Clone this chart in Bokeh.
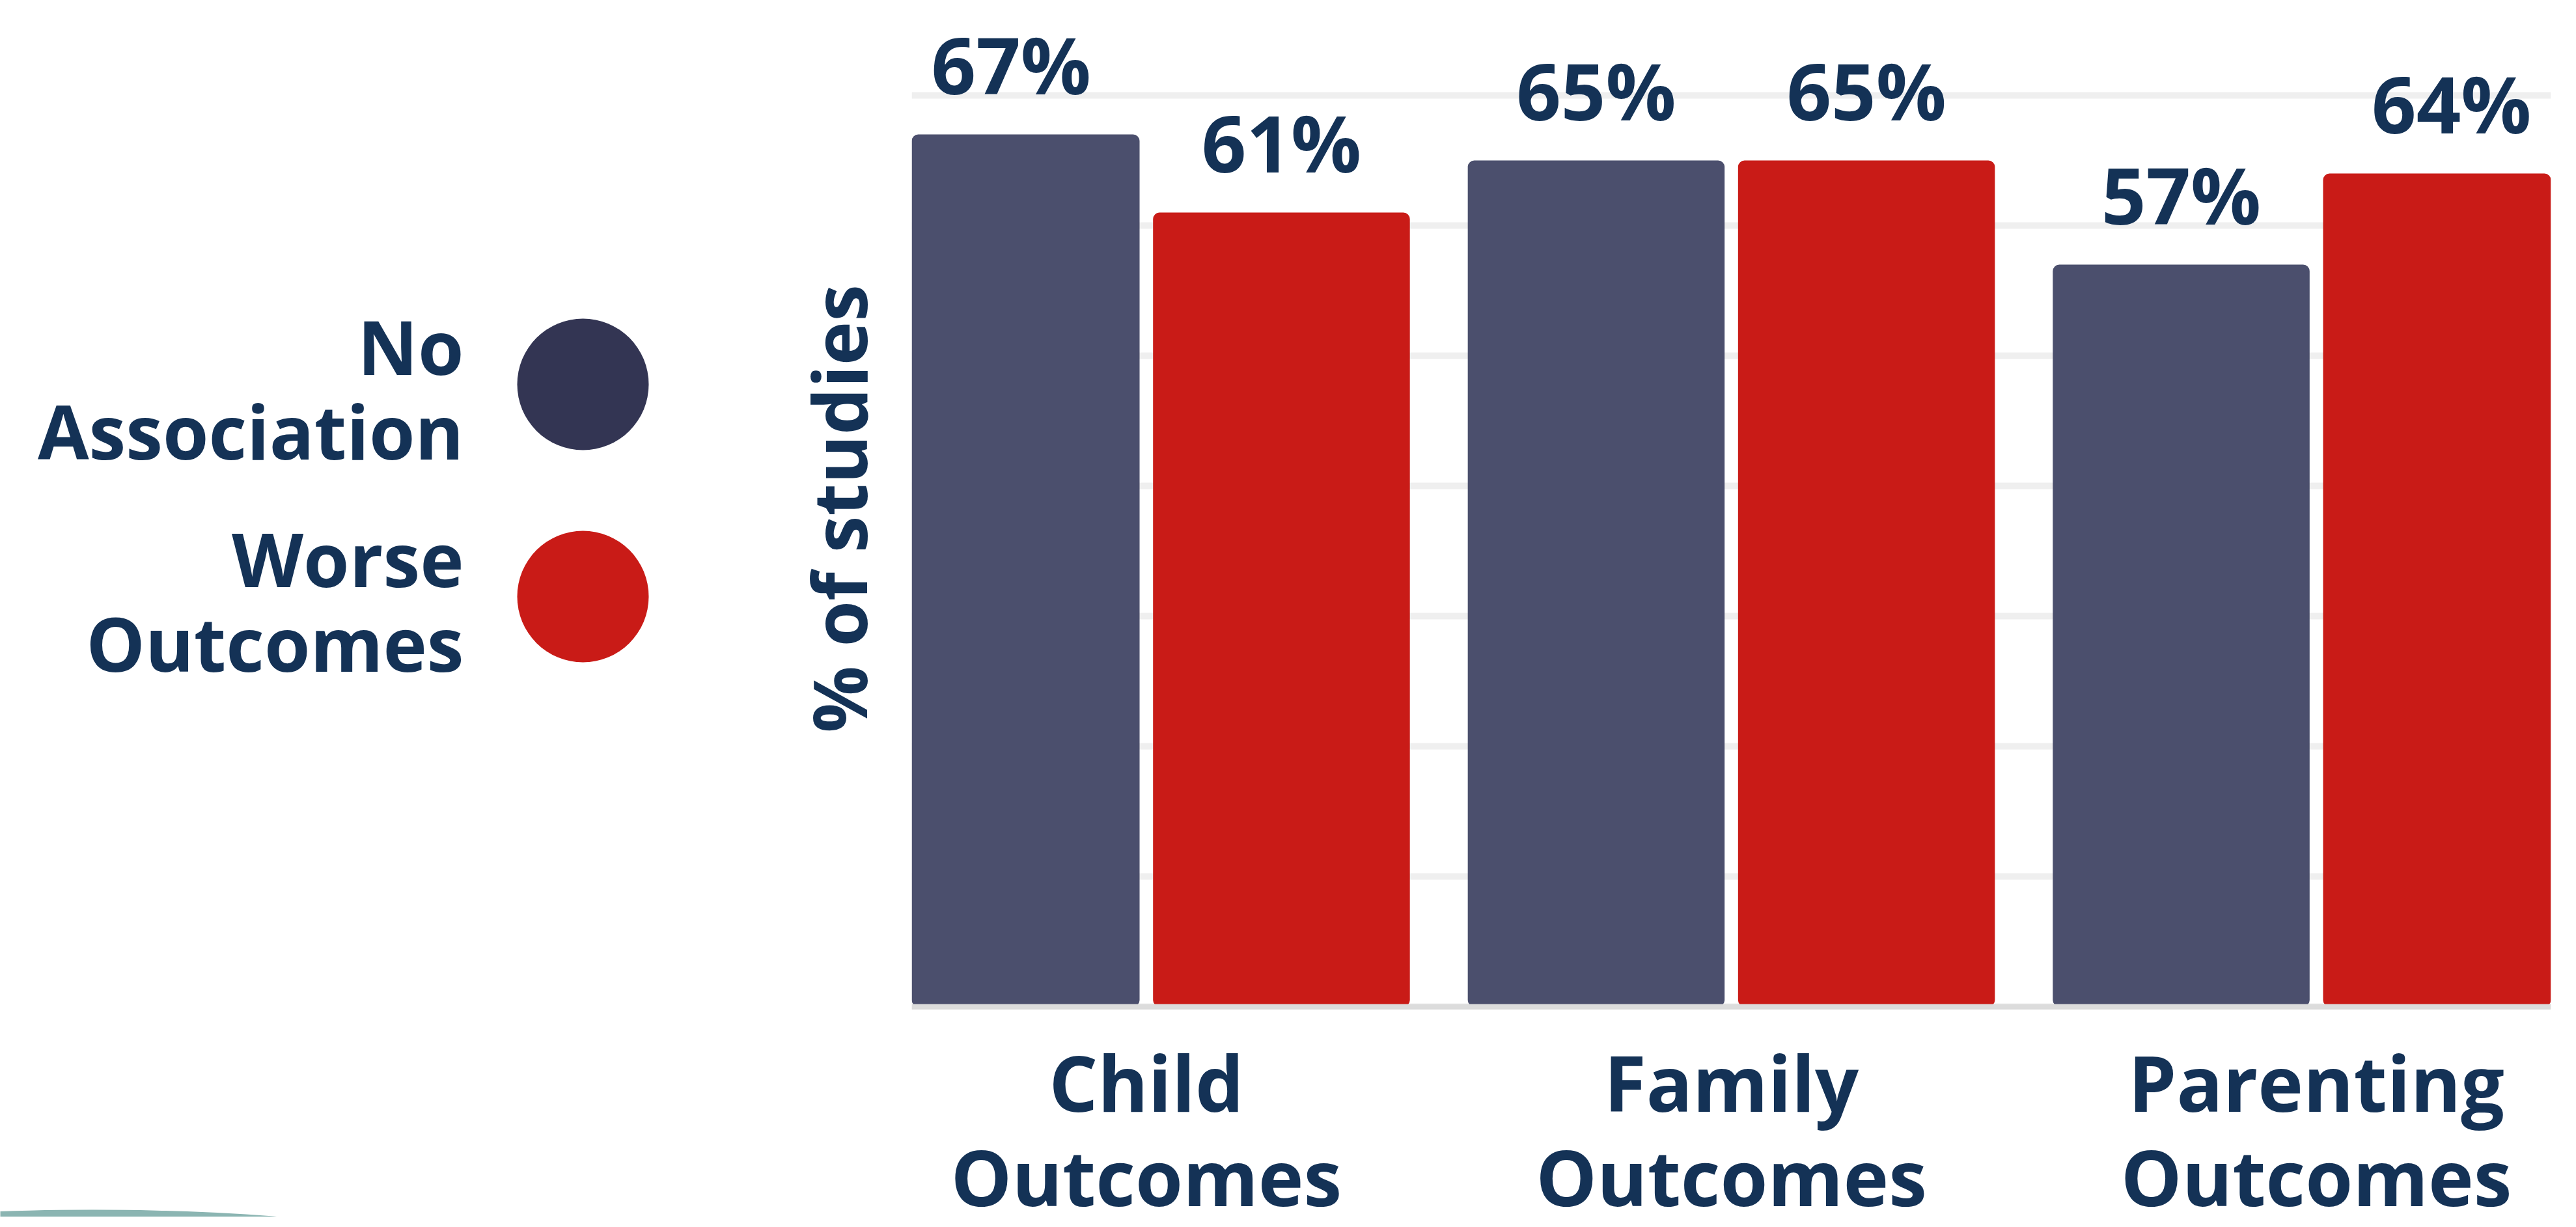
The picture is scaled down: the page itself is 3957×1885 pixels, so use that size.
import math
from bokeh.plotting import figure
from bokeh.models import ColumnDataSource, FactorRange, Range1d, FixedTicker, Span
from bokeh.transform import dodge
from bokeh.layouts import row
from bokeh.core.properties import value
from bokeh.embed import file_html
from bokeh.resources import INLINE

# ---- data ----
categories = ["Child\nOutcomes", "Family\nOutcomes", "Parenting\nOutcomes"]
no_association = [67, 65, 57]
worse_outcomes = [61, 65, 64]
series_names = ["No\nAssociation", "Worse\nOutcomes"]
bar_colors = ["#4B4F6D", "#C91B17"]
legend_colors = ["#333553", "#C91B17"]
y_label = "% of studies"
grid_values = [0, 10, 20, 30, 40, 50, 60, 70]

# ---- style ----
FONT = "Open Sans"
TEXT = "#143256"
W_TOTAL, H = 3941, 1869
BASE = 1546          # canvas y of the 0% baseline
PX_PER_PCT = 20.0
LEG_W = 1400
MAIN_W = W_TOTAL - LEG_W
BAR_W = 0.439
OFF = 0.231

src = ColumnDataSource(dict(
    cat=categories,
    na=no_association,
    wo=worse_outcomes,
    na_lbl=[f"{v}%" for v in no_association],
    wo_lbl=[f"{v}%" for v in worse_outcomes],
))

p = figure(
    x_range=FactorRange(*categories, range_padding=-0.099, range_padding_units="absolute"),
    y_range=Range1d(-(H - BASE) / PX_PER_PCT, BASE / PX_PER_PCT),
    width=MAIN_W, height=H,
    output_backend="svg", toolbar_location=None,
    min_border_left=0, min_border_right=23, min_border_top=0, min_border_bottom=0,
)
p.outline_line_color = None
p.background_fill_color = "white"
p.border_fill_color = "white"

p.yaxis.visible = False
p.ygrid.ticker = FixedTicker(ticks=grid_values)
p.ygrid.grid_line_color = "#efefef"
p.ygrid.grid_line_width = 10
p.xgrid.grid_line_color = None

p.xaxis.fixed_location = 0
p.xaxis.major_label_text_font = FONT
p.xaxis.major_label_text_font_style = "bold"
p.xaxis.major_label_text_font_size = "118px"
p.xaxis.major_label_text_color = TEXT
p.xaxis.major_label_text_line_height = 0.906
p.xaxis.major_label_standoff = 35
p.xaxis.major_tick_line_color = None
p.xaxis.major_tick_out = 0
p.xaxis.major_tick_in = 0
p.xaxis.minor_tick_line_color = None
p.xaxis.minor_tick_out = 0
p.xaxis.axis_line_color = None

# baseline (x axis line)
p.add_layout(Span(location=0, dimension="width", line_color="#dcdcdc", line_width=8))

for col, lbl, off, color in [("na", "na_lbl", -OFF, bar_colors[0]), ("wo", "wo_lbl", OFF, bar_colors[1])]:
    p.vbar(x=dodge("cat", off, range=p.x_range), top=col, width=BAR_W, bottom=0,
           fill_color=color, line_color=None, source=src, border_radius=10)
    p.text(x=dodge("cat", off, range=p.x_range), y=col, text=lbl, source=src,
           text_font=value(FONT), text_font_style="bold", text_font_size="120px",
           text_color=TEXT, text_align="center", text_baseline="alphabetic", y_offset=-108)

# ---- legend + y-axis title panel (pixel coordinates, y downwards) ----
lg = figure(width=LEG_W, height=H, x_range=Range1d(0, LEG_W), y_range=Range1d(H, 0),
            output_backend="svg", toolbar_location=None, min_border=0)
lg.axis.visible = False
lg.grid.visible = False
lg.outline_line_color = None
lg.border_fill_color = "white"
lg.background_fill_color = "white"

leg_y0, leg_dy = 590, 326
leg_y = [leg_y0 + i * leg_dy for i in range(len(series_names))]
lsrc = ColumnDataSource(dict(y=leg_y, name=series_names, color=legend_colors,
                             cx=[895] * len(series_names), tx=[712] * len(series_names)))
lg.scatter(x="cx", y="y", size=202, fill_color="color", line_color=None, source=lsrc)
lg.text(x="tx", y="y", text="name", source=lsrc, text_font=value(FONT), text_font_style="bold",
        text_font_size="114px", text_color=TEXT, text_align="right", text_baseline="middle",
        text_line_height=0.84, y_offset=6)

# y-axis title, centred on the 0..77% part of the plot
lg.text(x=[1287], y=[BASE / 2 + 8], text=[y_label], angle=math.pi / 2,
        text_font=value(FONT), text_font_style="bold", text_font_size="114px",
        text_color=TEXT, text_align="center", text_baseline="middle")

# decorative teal shape at bottom-left
lg.ellipse(x=[142], y=[1858 + 60], width=[1000], height=[120], fill_color="#8BB5B2", line_color=None)

layout = row(lg, p)
open("out.html", "w").write(file_html(layout, INLINE))
